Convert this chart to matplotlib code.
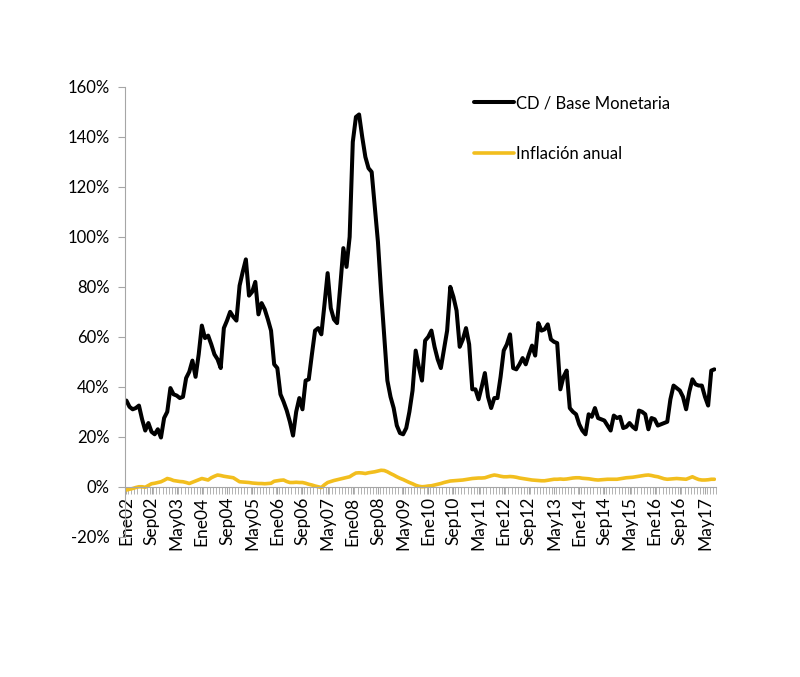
import numpy as np
import matplotlib
matplotlib.use("Agg")
from matplotlib import pyplot as plt

# monthly series, Ene02 .. Ago17 (188 months), values in percent
cd_base = [
    34.5, 32, 31, 31.5, 32.5, 27, 22.5, 25.5, 22, 21, 23, 19.7,            # 2002
    27.5, 30, 39.5, 37, 36.5, 35.5, 36, 43.5, 46, 50.5, 44, 53,            # 2003
    64.5, 59.5, 60.5, 57, 53, 51, 47.5, 63.5, 66.5, 70, 68, 66.5,          # 2004
    80.5, 86, 91, 76.5, 78, 82, 69, 73.5, 71, 67, 62.5, 49,                # 2005
    47.5, 37, 34, 30.5, 26, 20.5, 30, 35.5, 31, 42.5, 43, 53,              # 2006
    62.5, 63.5, 61, 73, 85.5, 71.5, 67, 65.5, 80, 95.5, 88, 100,           # 2007
    138, 148, 149, 140, 132, 127.5, 126, 112, 98, 78, 60, 42.5,            # 2008
    36, 31.5, 24.5, 21.5, 21, 23.5, 30, 38.5, 54.5, 48, 42.5, 58.5,        # 2009
    60, 62.5, 56, 51, 47.5, 55, 62.5, 80, 76, 70.5, 56, 59,                # 2010
    63.5, 57, 39, 39, 35, 40, 45.5, 36, 31.5, 35.5, 35.5, 44,              # 2011
    54.5, 57, 61, 47.5, 47, 49, 51.5, 49, 53, 56.5, 52.5, 65.5,            # 2012
    62.5, 63, 65, 59, 58, 57.5, 39, 44, 46.5, 31.5, 30, 29,                # 2013
    25, 22.5, 21, 29, 28, 31.5, 27.5, 27, 26.5, 24.5, 22.5, 28.5,          # 2014
    27.5, 28, 23.5, 24, 25.5, 24, 23, 30.5, 30, 29, 23, 27.5,              # 2015
    27, 24.5, 25, 25.5, 26, 35, 40.5, 39.5, 38.5, 36, 31, 38,              # 2016
    43, 41, 40.5, 40.5, 36, 32.5, 46.5, 47,                                # 2017
]

inflacion = [
    -1.3, -1.0, -0.7, -0.3, 0, 0, -0.2, 0.5, 1.2, 1.4, 1.7, 2.0,
    2.6, 3.3, 3.0, 2.5, 2.3, 2.1, 2.0, 1.7, 1.3, 1.8, 2.3, 2.8,
    3.3, 3.0, 2.7, 3.6, 4.2, 4.7, 4.5, 4.2, 4.0, 3.8, 3.6, 2.8,
    2.0, 1.9, 1.8, 1.7, 1.5, 1.4, 1.3, 1.3, 1.2, 1.3, 1.4, 2.2,
    2.4, 2.6, 2.7, 2.1, 1.7, 1.7, 1.8, 1.7, 1.7, 1.4, 1.0, 0.7,
    0.3, 0.0, -0.3, 0.8, 1.7, 2.1, 2.5, 2.8, 3.1, 3.4, 3.7, 4.0,
    4.8, 5.5, 5.6, 5.5, 5.3, 5.6, 5.8, 6.0, 6.3, 6.6, 6.5, 6.0,
    5.3, 4.7, 4.0, 3.4, 2.9, 2.3, 1.7, 1.2, 0.6, 0.2, 0, 0.1,
    0.3, 0.4, 0.7, 1.0, 1.3, 1.7, 2.0, 2.3, 2.4, 2.5, 2.6, 2.7,
    2.9, 3.1, 3.3, 3.4, 3.5, 3.5, 3.6, 4.0, 4.4, 4.7, 4.5, 4.2,
    4.0, 4.0, 4.1, 4.0, 3.8, 3.5, 3.3, 3.1, 2.9, 2.7, 2.6, 2.5,
    2.4, 2.4, 2.6, 2.8, 3.0, 3.0, 3.1, 3.0, 3.1, 3.3, 3.5, 3.6,
    3.6, 3.4, 3.3, 3.2, 3.0, 2.8, 2.7, 2.8, 2.9, 3.0, 3.0, 3.0,
    3.0, 3.2, 3.4, 3.6, 3.7, 3.8, 4.0, 4.2, 4.4, 4.6, 4.7, 4.5,
    4.2, 4.0, 3.6, 3.2, 3.0, 3.1, 3.2, 3.3, 3.2, 3.1, 3.0, 3.5,
    4.0, 3.4, 2.9, 2.7, 2.7, 2.8, 3.0, 3.0,
]

tick_labels = ['Ene02', 'Sep02', 'May03', 'Ene04', 'Sep04', 'May05', 'Ene06', 'Sep06',
               'May07', 'Ene08', 'Sep08', 'May09', 'Ene10', 'Sep10', 'May11', 'Ene12',
               'Sep12', 'May13', 'Ene14', 'Sep14', 'May15', 'Ene16', 'Sep16', 'May17']

plt.rcParams['font.family'] = ['Lato', 'DejaVu Sans']

n = len(cd_base)
x = np.arange(n)
gray = '#A6A6A6'

fig = plt.figure(figsize=(8, 6.77), dpi=100)
ax = fig.add_axes([0.156, 0.2072, 0.739, 0.6643])

ax.plot(x, cd_base, color='black', lw=2.9, label='CD / Base Monetaria',
        solid_joinstyle='round', solid_capstyle='round')
ax.plot(x, inflacion, color='#F2BE1E', lw=2.6, label='Inflación anual',
        solid_joinstyle='round', solid_capstyle='round')

ax.set_ylim(-20, 160)
ax.set_yticks(np.arange(-20, 161, 20))
ax.set_yticklabels([f'{v}%' for v in range(-20, 161, 20)])
ax.set_xlim(-0.5, n - 0.5)

# category axis sits at 0%
for s in ['top', 'right']:
    ax.spines[s].set_visible(False)
ax.spines['bottom'].set_position(('data', 0))
ax.spines['bottom'].set_color(gray)
ax.spines['left'].set_color(gray)

ax.set_xticks(x[::8])
ax.set_xticklabels(tick_labels, rotation=90, fontsize=12.5)
ax.set_xticks(np.arange(-0.5, n, 1), minor=True)
ax.tick_params(axis='x', which='both', length=5, color=gray, pad=2)
ax.tick_params(axis='y', length=5, color=gray, labelsize=12, pad=6)

ax.legend(loc='upper left', bbox_to_anchor=(0.565, 1.015), frameon=False, fontsize=12,
          handlelength=2.4, handletextpad=0.15, labelspacing=2.1)

fig.savefig('out.png', dpi=100)
